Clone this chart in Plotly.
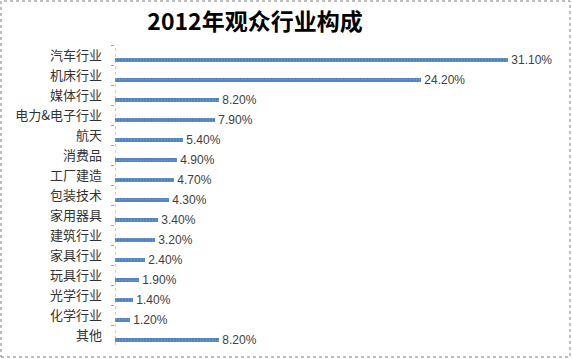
import plotly.graph_objects as go

categories = ["汽车行业", "机床行业", "媒体行业", "电力&电子行业", "航天", "消费品", "工厂建造",
              "包装技术", "家用器具", "建筑行业", "家具行业", "玩具行业", "光学行业", "化学行业", "其他"]
values = [31.10, 24.20, 8.20, 7.90, 5.40, 4.90, 4.70, 4.30, 3.40, 3.20, 2.40, 1.90, 1.40, 1.20, 8.20]
labels = [f"{v:.2f}%" for v in values]
title = "2012年观众行业构成"

W, H = 572, 359
ML, MR, MT, MB = 115, 12, 45, 14
PW, PH = W - ML - MR, H - MT - MB

fig = go.Figure(go.Bar(
    x=values, y=categories, orientation="h",
    width=0.22, offset=0.14,
    marker=dict(color="#4F81BD", line=dict(width=0),
                pattern=dict(shape=".", fgcolor="#8FB0DA", size=3, solidity=0.3)),
    text=labels, texttemplate="\u00a0%{text}",
    textposition="outside", cliponaxis=False, constraintext="none",
    textfont=dict(family="Liberation Sans, Noto Sans CJK SC", size=12, color="#404040"),
))

fig.update_layout(
    width=W, height=H,
    margin=dict(l=ML, r=MR, t=MT, b=MB, autoexpand=False),
    paper_bgcolor="white", plot_bgcolor="white",
    showlegend=False,
    title=dict(text="<b>" + title + "</b>", x=255 / W, xanchor="center", xref="container",
               y=1 - 22 / H, yanchor="middle", yref="container",
               font=dict(family="Noto Sans CJK SC", size=23, color="#000000")),
    bargap=0,
)
fig.update_xaxes(range=[0, PW / 12.64], visible=False, showgrid=False, zeroline=False,
                 automargin=False)
fig.update_yaxes(categoryorder="array", categoryarray=categories, autorange="reversed",
                 showgrid=False, zeroline=False, showline=False, automargin=False,
                 ticks="outside", tickson="boundaries", ticklen=3, tickcolor="#A0A0A0",
                 ticklabelstandoff=12,
                 tickfont=dict(family="Noto Sans CJK SC", size=13, color="#333333"))

# dotted axis line
fig.add_shape(type="line", xref="x", yref="paper", x0=0, x1=0, y0=0, y1=1,
              line=dict(color="#A0A0A0", width=1, dash="dot"))
# dotted outer border
fig.add_shape(type="rect", xref="paper", yref="paper",
              x0=(-ML + 1) / PW, x1=(PW + MR - 2) / PW,
              y0=(-MB + 2) / PH, y1=(PH + MT - 1) / PH,
              line=dict(color="#808080", width=1, dash="dot"), fillcolor="rgba(0,0,0,0)")

fig.write_html("out.html", config={"displayModeBar": False},
               post_script="document.body.style.margin='0';")
